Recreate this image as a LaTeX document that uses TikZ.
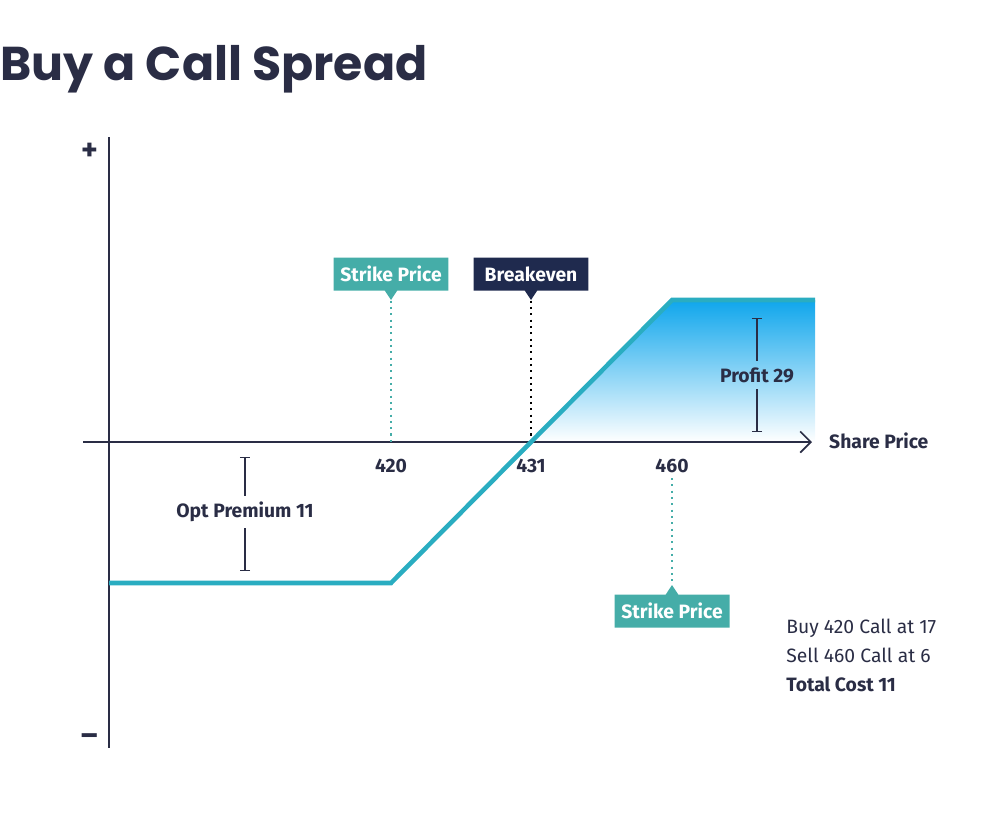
\documentclass[tikz,border=0pt]{standalone}
\usepackage{fontspec}
\setmainfont{Fira Sans}
\newfontfamily\titlefont{Poppins}
\usetikzlibrary{arrows.meta,shapes.callouts}
\definecolor{payoff}{HTML}{2AADC1}
\definecolor{strike}{HTML}{45ADA8}
\definecolor{navy}{HTML}{1F2A4E}
\definecolor{axis}{HTML}{2A2D45}
\definecolor{sky}{HTML}{0FA6EC}
\tikzset{
    tag/.style={rectangle callout, fill=#1, text=white, font=\bfseries\fontsize{11}{13}\selectfont,
        minimum width=2.3cm, minimum height=0.66cm, inner sep=0pt},
    lbl/.style={text=axis, font=\bfseries\fontsize{11}{13}\selectfont},
    bar/.style={axis, line width=0.7pt},
    guide/.style={#1, line width=1.2pt, dash pattern=on 1.2pt off 2.4pt},
    note/.style={anchor=base west, inner sep=0pt, text=axis, font=\fontsize{11}{13}\selectfont},
}
\begin{document}
\begin{tikzpicture}[x=0.02cm, y=-0.02cm]
        \useasboundingbox (0,0) rectangle (1000,816);
        \node[anchor=base west, inner sep=0pt, text=axis] (title) at (0,80)
            {\titlefont\bfseries\fontsize{27}{32}\selectfont Buy a Call Spread};

        % gain area
        \shade[top color=sky, bottom color=white] (531,442) -- (672,300) -- (815,300) -- (815,442) -- cycle;

        % axes
        \coordinate (ytop) at (109,137);
        \coordinate (ybot) at (109,748);
        \coordinate (xl) at (83,442);
        \coordinate (xr) at (812,442);
        \draw[axis, line width=1pt] (ytop) -- (ybot);
        \draw[axis, line width=1pt, -{Straight Barb[length=6pt,width=12pt]}] (xl) -- (xr);
        \node[lbl, font=\bfseries\fontsize{18}{20}\selectfont] (plus) at (90,152) {+};
        \node[lbl, font=\bfseries\fontsize{18}{20}\selectfont] (minus) at (90,740) {\textendash};
        \node[lbl, anchor=west] (share) at (823,441) {Share Price};
        \foreach \x/\t in {391/420, 531/431, 672/460}
            \node[lbl] (tick\t) at (\x,466) {\t};

        % callouts
        \node[tag=strike, callout absolute pointer={(391,300)}] (ks1) at (391,274) {Strike Price};
        \node[tag=navy, callout absolute pointer={(531,300)}] (be) at (531,274) {Breakeven};
        \node[tag=strike, callout absolute pointer={(672,585)}] (ks2) at (672,611) {Strike Price};
        \coordinate (k1) at (391,442);
        \coordinate (b0) at (531,442);
        \coordinate (k2) at (672,478);
        \draw[guide=strike] (ks1.pointer) -- (k1);
        \draw[guide=black] (be.pointer) -- (b0);
        \draw[guide=strike] (k2) -- (ks2.pointer);

        % payoff
        \draw[payoff, line width=2.6pt] (109,583) -- (391,583) -- (672,300) -- (815,300);

        % profit and premium bars
        \node[lbl] (profit) at (757,375) {Profit 29};
        \draw[bar, |-] (757,318) -- (profit.north);
        \draw[bar, |-] (757,432) -- (profit.south);
        \node[lbl] (prem) at (245,512) {Opt Premium 11};
        \draw[bar, |-] (245,457) -- (prem.north);
        \draw[bar, |-] (245,571) -- (prem.south);

        % trade summary
        \node[note] (buy) at (786,633) {Buy 420 Call at 17};
        \node[note] (sell) at (786,662) {Sell 460 Call at 6};
        \node[note, font=\bfseries\fontsize{11}{13}\selectfont] (cost) at (786,691) {Total Cost 11};
    \end{tikzpicture}
\end{document}
